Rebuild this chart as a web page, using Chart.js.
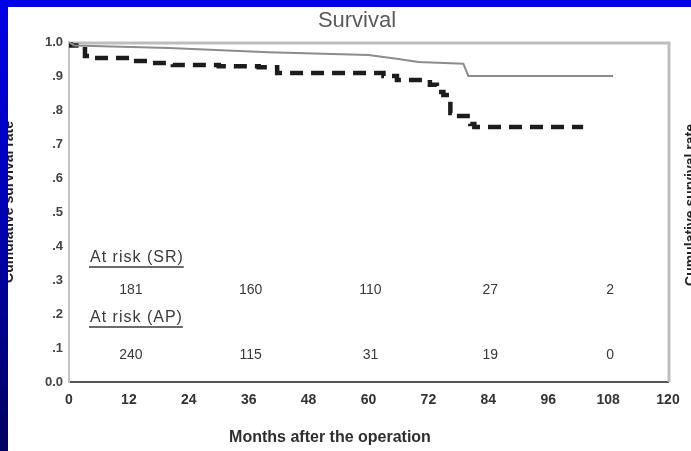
<!DOCTYPE html>
<html>
<head>
<meta charset="utf-8">
<title>Survival</title>
<script src="https://cdn.jsdelivr.net/npm/chart.js@4/dist/chart.umd.min.js"></script>
<style>
  html, body { margin: 0; padding: 0; background: #fff; overflow: hidden; }
  #wrap { width: 691px; height: 451px; position: relative; }
  canvas { display: block; }
</style>
</head>
<body>
<div id="wrap"><canvas id="c" width="691" height="451"></canvas></div>
<script>
// Axis ticks
const monthTicks = [0, 12, 24, 36, 48, 60, 72, 84, 96, 108, 120];
const survivalTickLabels = ['0.0', '.1', '.2', '.3', '.4', '.5', '.6', '.7', '.8', '.9', '1.0'];

// Survival curve, SR group (thin solid grey)
const srMonths   = [0,    1,    20,    40,   60,    66,   70,    79,    80,   109];
const srSurvival = [1.0,  0.99, 0.982, 0.97, 0.962, 0.95, 0.941, 0.936, 0.90, 0.90];

// Kaplan-Meier curve, AP group (heavy dashed black)
const apMonths   = [0,   0.3,  3.2,   4.2,   12.8,  16.2,  20.8,  30,    38,    41.7,  63,   65.7,  72.3,  73.7,  75,    76.4,  77,    80.4,  81.2, 103];
const apSurvival = [1.0, 0.99, 0.959, 0.953, 0.944, 0.938, 0.932, 0.929, 0.926, 0.909, 0.90, 0.888, 0.874, 0.853, 0.844, 0.791, 0.782, 0.759, 0.75, 0.75];

// Numbers at risk
const riskMonths = [12, 36, 60, 84, 108];
const riskSR = [181, 160, 110, 27, 2];
const riskAP = [240, 115, 31, 19, 0];

const toPoints = (xs, ys) => xs.map((x, i) => ({ x: x, y: ys[i] }));

const decor = {
  id: 'decor',
  beforeDraw(chart) {
    const ctx = chart.ctx;
    ctx.save();
    ctx.fillStyle = '#ffffff';
    ctx.fillRect(0, 0, chart.width, chart.height);
    ctx.restore();
  },
  beforeDatasetsDraw(chart) {
    const { ctx, chartArea: a, scales: { x, y } } = chart;
    ctx.save();
    // frame: top and right edges
    ctx.strokeStyle = '#bdbdbd';
    ctx.lineWidth = 3;
    ctx.beginPath();
    ctx.moveTo(a.left, a.top + 1);
    ctx.lineTo(a.right + 1, a.top + 1);
    ctx.lineTo(a.right + 1, a.bottom);
    ctx.stroke();

    // at-risk table
    ctx.fillStyle = '#3a3a3a';
    ctx.strokeStyle = '#3a3a3a';
    ctx.textBaseline = 'middle';
    ctx.font = '16px "Liberation Sans", Arial, sans-serif';
    ctx.letterSpacing = '1px';
    ctx.textAlign = 'left';
    const headers = [['At risk (SR)', 0.365], ['At risk (AP)', 0.188]];
    headers.forEach(([t, v]) => {
      const py = y.getPixelForValue(v);
      const w = ctx.measureText(t).width;
      ctx.fillText(t, 90, py);
      ctx.lineWidth = 1.5;
      ctx.beginPath();
      ctx.moveTo(89, py + 9);
      ctx.lineTo(90 + w, py + 9);
      ctx.stroke();
    });
    ctx.letterSpacing = '0px';
    ctx.font = '14px "Liberation Sans", Arial, sans-serif';
    ctx.textAlign = 'center';
    riskMonths.forEach((m, i) => {
      const px = x.getPixelForValue(m) + 2;
      ctx.fillText(String(riskSR[i]), px, y.getPixelForValue(0.27));
      ctx.fillText(String(riskAP[i]), px, y.getPixelForValue(0.079));
    });
    ctx.restore();
  },
  afterDraw(chart) {
    const ctx = chart.ctx;
    ctx.save();
    // title
    ctx.fillStyle = '#5a5a5a';
    ctx.font = '22px "Liberation Sans", Arial, sans-serif';
    ctx.textAlign = 'center';
    ctx.textBaseline = 'middle';
    ctx.fillText('Survival', 357, 21);

    // x axis title
    ctx.fillStyle = '#2e2e2e';
    ctx.font = 'bold 16px "Liberation Sans", Arial, sans-serif';
    ctx.fillText('Months after the operation', 330, 438);

    // side titles (partly hidden by the frame and the page edge)
    ctx.font = 'bold 14px "Liberation Sans", Arial, sans-serif';
    ctx.fillStyle = '#222';
    ctx.save();
    ctx.translate(9, 202);
    ctx.rotate(-Math.PI / 2);
    ctx.fillText('Cumulative survival rate', 0, 0);
    ctx.restore();
    ctx.save();
    ctx.translate(691, 205);
    ctx.rotate(-Math.PI / 2);
    ctx.fillText('Cumulative survival rate', 0, 0);
    ctx.restore();

    // blue slide frame
    ctx.fillStyle = '#0000e8';
    ctx.fillRect(0, 0, chart.width, 7);
    const g = ctx.createLinearGradient(0, 0, 0, chart.height);
    g.addColorStop(0, '#0000e8');
    g.addColorStop(0.5, '#0000b0');
    g.addColorStop(1, '#000060');
    ctx.fillStyle = g;
    ctx.fillRect(0, 0, 8, chart.height);
    ctx.restore();
  }
};

new Chart(document.getElementById('c'), {
  type: 'line',
  data: {
    datasets: [
      {
        label: 'SR',
        data: toPoints(srMonths, srSurvival),
        borderColor: '#8c8c8c',
        borderWidth: 2,
        tension: 0,
        pointRadius: 0,
        fill: false
      },
      {
        label: 'AP',
        data: toPoints(apMonths, apSurvival),
        borderColor: '#1c1c1c',
        borderWidth: 4.5,
        borderDash: [13, 8],
        stepped: true,
        pointRadius: 0,
        fill: false
      }
    ]
  },
  options: {
    responsive: false,
    animation: false,
    events: [],
    layout: { padding: { top: 42, right: 23, left: 0, bottom: 0 } },
    plugins: { legend: { display: false }, title: { display: false }, tooltip: { enabled: false } },
    scales: {
      x: {
        type: 'linear',
        min: 0,
        max: 120,
        afterFit: s => { s.height = 69; },
        afterBuildTicks: s => { s.ticks = monthTicks.map(v => ({ value: v })); },
        grid: { display: false, drawTicks: false },
        border: { display: true, color: '#555', width: 2 },
        ticks: {
          autoSkip: false,
          maxRotation: 0,
          padding: 10,
          color: '#333',
          font: { family: '"Liberation Sans", Arial, sans-serif', size: 14, weight: 'bold' },
          callback: v => String(v)
        }
      },
      y: {
        type: 'linear',
        min: 0,
        max: 1,
        afterFit: s => { s.width = 69; },
        afterBuildTicks: s => { s.ticks = survivalTickLabels.map((_, i) => ({ value: i / 10 })); },
        grid: { display: false, drawTicks: false },
        border: { display: true, color: '#c4c4c4', width: 2 },
        ticks: {
          autoSkip: false,
          padding: 6,
          color: '#444',
          font: { family: '"Liberation Sans", Arial, sans-serif', size: 13, weight: 'bold' },
          callback: (v, i) => survivalTickLabels[i]
        }
      }
    }
  },
  plugins: [decor]
});
</script>
</body>
</html>
